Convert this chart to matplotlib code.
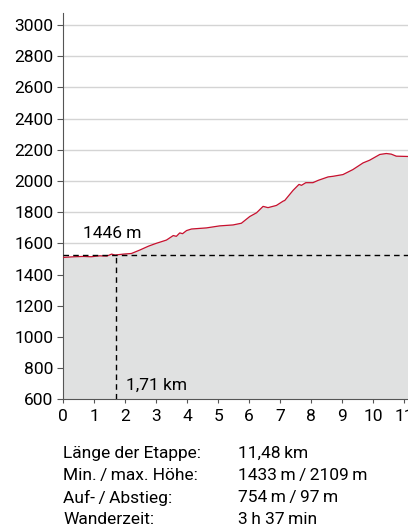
import matplotlib
matplotlib.use('Agg')
import matplotlib.pyplot as plt

plt.rcParams['font.family'] = ['Roboto', 'DejaVu Sans']

# elevation profile (km, m)
km = [0.0, 0.35, 0.65, 0.9, 1.18, 1.4, 1.56, 1.67, 1.94, 2.2, 2.47, 2.75, 3.0,
      3.33, 3.55, 3.65, 3.76, 3.85, 3.98, 4.14, 4.62, 5.05, 5.48, 5.75, 6.02,
      6.24, 6.45, 6.61, 6.88, 7.1, 7.15, 7.42, 7.61, 7.69, 7.83, 8.06, 8.23,
      8.39, 8.55, 8.71, 9.03, 9.35, 9.68, 9.89, 10.22, 10.43, 10.59, 10.75, 11.13]
elev = [1510, 1514, 1516, 1514, 1520, 1518, 1531, 1525, 1531, 1535, 1557, 1582, 1600,
        1621, 1650, 1645, 1667, 1662, 1682, 1692, 1699, 1712, 1718, 1729, 1772,
        1796, 1837, 1829, 1843, 1871, 1875, 1940, 1978, 1972, 1989, 1989, 2004,
        2015, 2026, 2030, 2041, 2073, 2116, 2133, 2170, 2176, 2172, 2159, 2157]

yticks = list(range(600, 3001, 200))
xticks = list(range(0, 12))
mark_km = 1.71
mark_elev = 1527
mark_km_label = '1,71 km'
mark_elev_label = '1446 m'

info_labels = ['Länge der Etappe:', 'Min.\u2009/\u2009max. Höhe:', 'Auf-\u2009/\u2009Abstieg:', 'Wanderzeit:']
info_values = ['11,48\u2009km', '1433\u2009m\u2009/\u20092109\u2009m', '754\u2009m\u2009/\u200997\u2009m', '3\u2009h 37\u2009min']

fig = plt.figure(figsize=(4.08, 5.30), dpi=100)
ax = fig.add_axes([63.3 / 408, 130.7 / 530, 1 - 63.3 / 408, (399.3 - 13) / 530])

ax.fill_between(km, elev, 600, color='#e0e1e1', zorder=1)
ax.plot(km, elev, color='#c8102e', lw=0.9, zorder=3)
ax.axhline(mark_elev, color='black', lw=1, ls=(0, (4, 3)), zorder=4)
ax.plot([mark_km, mark_km], [600, mark_elev], color='black', lw=1, ls=(0, (4, 3)), zorder=4)
ax.text(0.65, 1665, mark_elev_label, fontsize=12.5, va='center', ha='left', zorder=5)
ax.text(2.02, 692, mark_km_label, fontsize=12.5, va='center', ha='left', zorder=5)

ax.set_xlim(0, 11.13)
ax.set_ylim(600, 3077)
ax.set_yticks(yticks)
ax.set_xticks(xticks)
ax.grid(axis='y', color='#d4d4d4', lw=1, zorder=0)
ax.set_axisbelow(True)
for s in ['top', 'right']:
    ax.spines[s].set_visible(False)
ax.spines['left'].set_color('#555555')
ax.spines['bottom'].set_color('#555555')
ax.tick_params(axis='y', length=4, color='#555555', labelsize=12.5, pad=3)
ax.tick_params(axis='x', length=3, color='#555555', labelsize=12.5, pad=4)

for i, (lab, val) in enumerate(zip(info_labels, info_values)):
    y = 1 - (453.3 + 22.2 * i) / 530
    fig.text(63.3 / 408, y, lab, fontsize=12.5, va='center', ha='left')
    fig.text(237.7 / 408, y, val, fontsize=12.5, va='center', ha='left')

fig.savefig('out.png', dpi=100)
